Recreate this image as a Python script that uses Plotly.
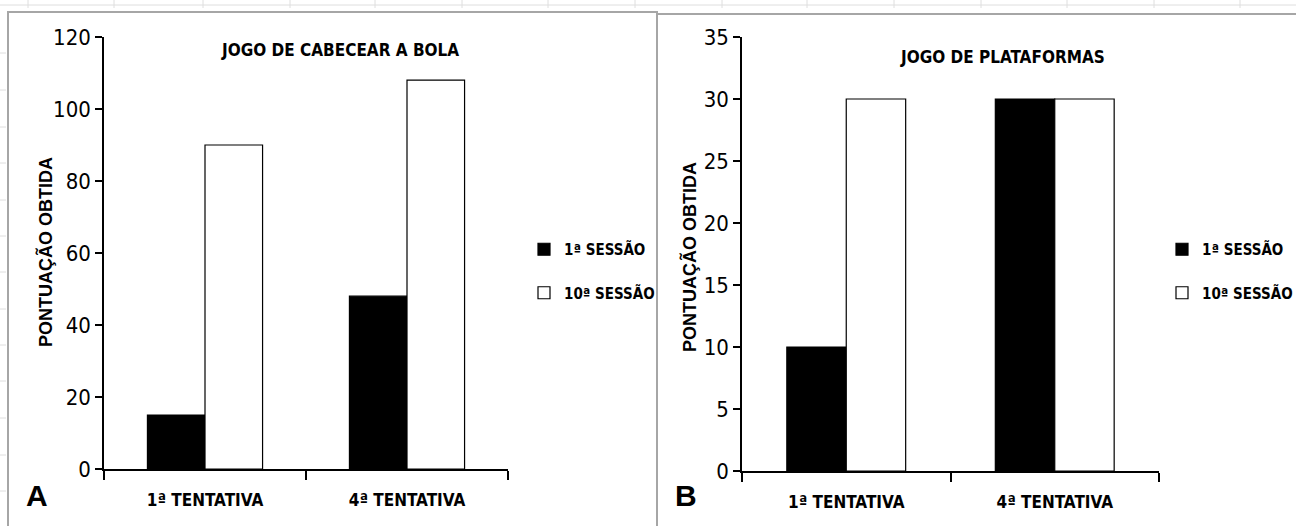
import plotly.graph_objects as go

# Scores per attempt, for the two games
tentativas = ["1ª TENTATIVA", "4ª TENTATIVA"]
sessoes = ["1ª SESSÃO", "10ª SESSÃO"]

cabecear_sessao1 = [15, 48]
cabecear_sessao10 = [90, 108]

plataformas_sessao1 = [10, 30]
plataformas_sessao10 = [30, 30]

W, H = 1296, 526
NARROW = "Liberation Sans Narrow, Arial Narrow, DejaVu Sans Condensed, sans-serif"
BOLD = "Liberation Sans, Arial, sans-serif"


def px(x):
    return x / W


def py(y):
    return (H - y) / H


fig = go.Figure()

fill = {sessoes[0]: "black", sessoes[1]: "white"}

for name, vals in zip(sessoes, [cabecear_sessao1, cabecear_sessao10]):
    fig.add_trace(go.Bar(
        x=tentativas, y=vals, name=name, xaxis="x", yaxis="y",
        marker=dict(color=fill[name], line=dict(color="black", width=1.2)),
        legend="legend", legendgroup="a" + name,
    ))

for name, vals in zip(sessoes, [plataformas_sessao1, plataformas_sessao10]):
    fig.add_trace(go.Bar(
        x=tentativas, y=vals, name=name, xaxis="x2", yaxis="y2",
        marker=dict(color=fill[name], line=dict(color="black", width=1.2)),
        legend="legend2", legendgroup="b" + name,
    ))

xaxis_common = dict(
    type="category", showline=True, linecolor="black", linewidth=1.5,
    ticks="outside", ticklen=9, tickcolor="black", tickwidth=1.5,
    tickson="boundaries", showgrid=False, zeroline=False,
    ticklabelstandoff=15,
    tickfont=dict(family=NARROW, size=17, color="black", weight="bold"),
    fixedrange=True,
)
yaxis_common = dict(
    showline=True, linecolor="black", linewidth=1.5,
    ticks="outside", ticklen=7, tickcolor="black", tickwidth=1.5,
    showgrid=False, zeroline=False,
    tickfont=dict(family=NARROW, size=22, color="black"),
    fixedrange=True,
)

legend_common = dict(
    font=dict(family=NARROW, size=15, color="black", weight="bold"),
    bgcolor="rgba(0,0,0,0)", borderwidth=0,
    traceorder="grouped", tracegroupgap=21,
    xanchor="left", yanchor="top",
    itemclick=False, itemdoubleclick=False,
)

fig.update_layout(
    width=W, height=H,
    margin=dict(l=0, r=0, t=0, b=0, pad=0, autoexpand=False),
    paper_bgcolor="white", plot_bgcolor="white",
    barmode="group", bargap=0.43, bargroupgap=0,
    xaxis=dict(domain=[px(104), px(508)], anchor="y", **xaxis_common),
    yaxis=dict(domain=[py(469), py(37)], anchor="x", range=[0, 120],
               dtick=20, **yaxis_common),
    xaxis2=dict(domain=[px(742), px(1159)], anchor="y2", **xaxis_common),
    yaxis2=dict(domain=[py(471), py(37)], anchor="x2", range=[0, 35],
                dtick=5, **yaxis_common),
    legend=dict(x=px(524), y=py(233), **legend_common),
    legend2=dict(x=px(1162), y=py(233), **legend_common),
    showlegend=True,
)

# Chart titles, panel letters and y-axis titles
text_pos = dict(xref="paper", yref="paper", showarrow=False,
                xanchor="center", yanchor="middle")
fig.add_annotation(text="JOGO DE CABECEAR A BOLA", x=px(340), y=py(50),
                   font=dict(family=NARROW, size=17, color="black", weight="bold"),
                   **text_pos)
fig.add_annotation(text="JOGO DE PLATAFORMAS", x=px(1002), y=py(57),
                   font=dict(family=NARROW, size=17, color="black", weight="bold"),
                   **text_pos)
for letter, lx in [("A", 37), ("B", 686)]:
    fig.add_annotation(text="<b>" + letter + "</b>", x=px(lx), y=py(495),
                       font=dict(family=BOLD, size=30, color="black"),
                       **text_pos)
for ax_x, ax_y in [(45, 252), (689, 257)]:
    fig.add_annotation(text="<b>PONTUAÇÃO OBTIDA</b>", x=px(ax_x), y=py(ax_y),
                       textangle=-90,
                       font=dict(family=BOLD, size=18, color="black"),
                       **text_pos)

# Chart frames and the faint sheet grid behind them
frame = "#a6a6a6"
grid = "#dedede"
shapes = [
    dict(type="line", x0=0, x1=1, y0=py(5), y1=py(5), line=dict(color=grid, width=1)),
    dict(type="rect", x0=px(8), x1=px(657), y0=py(530), y1=py(12),
         line=dict(color=frame, width=2)),
    dict(type="line", x0=px(657), x1=1, y0=py(14), y1=py(14),
         line=dict(color=frame, width=2)),
]
for gx in [28, 114, 203, 290, 375, 462, 548, 635, 722, 807, 894, 981, 1067, 1154, 1240]:
    shapes.append(dict(type="line", x0=px(gx), x1=px(gx), y0=py(0), y1=py(8),
                       line=dict(color=grid, width=1)))
for gy in [53, 90, 127, 163, 200, 236, 272, 309, 345, 381, 418, 455, 491]:
    shapes.append(dict(type="line", x0=0, x1=px(6), y0=py(gy), y1=py(gy),
                       line=dict(color=grid, width=1)))
for s in shapes:
    s.update(xref="paper", yref="paper", layer="below")
fig.update_layout(shapes=shapes)

fig.write_html("out.html")
